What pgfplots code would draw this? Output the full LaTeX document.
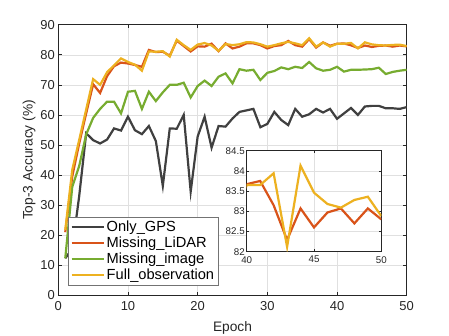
\documentclass[border=0pt]{standalone}
\usepackage{fontspec}
\setmainfont{Liberation Sans}
\usepackage{pgfplots}
\usepackage{pgfplotstable}
\pgfplotsset{compat=1.18}
\definecolor{cgray}{rgb}{0.25,0.25,0.25}
\definecolor{cred}{rgb}{0.85,0.325,0.098}
\definecolor{cgreen}{rgb}{0.466,0.674,0.188}
\definecolor{cyel}{rgb}{0.929,0.694,0.125}
\definecolor{axc}{rgb}{0.15,0.15,0.15}
\definecolor{gridc}{rgb}{0.88,0.88,0.88}

\pgfplotstableread{
e gps lidar image full
1 12.3 21.0 12.3 21.7
2 15.5 39.5 36.0 41.7
3 33.0 50.5 43.0 51.7
4 53.9 60.5 53.5 61.8
5 51.6 70.2 59.0 71.9
6 50.5 67.3 62.0 70.0
7 51.8 72.9 64.4 74.2
8 55.5 76.2 64.4 76.5
9 54.8 77.4 60.5 78.8
10 59.4 77.1 67.7 77.6
11 54.9 76.6 68.0 76.7
12 53.6 76.0 62.0 74.7
13 56.3 81.6 67.7 81.1
14 51.3 80.9 64.6 81.0
15 36.4 81.0 67.5 81.2
16 55.5 79.7 70.0 79.4
17 55.4 84.7 70.0 85.0
18 60.0 82.9 70.7 83.2
19 34.5 81.1 65.8 81.6
20 52.8 82.8 69.6 83.4
21 59.4 82.7 71.4 83.9
22 49.1 83.7 69.6 83.1
23 56.3 81.2 72.7 81.3
24 56.1 83.8 73.8 83.6
25 58.8 82.1 70.5 83.2
26 61.0 82.7 75.2 83.5
27 61.5 83.8 74.7 84.2
28 62.0 83.8 75.0 84.1
29 55.9 83.2 71.6 83.5
30 57.0 82.1 74.0 82.7
31 61.0 82.9 74.6 83.2
32 58.3 83.2 75.8 83.8
33 56.6 84.6 75.2 84.3
34 62.0 83.2 76.0 83.8
35 59.4 82.7 75.6 83.2
36 60.2 85.2 77.6 85.5
37 62.0 82.4 75.5 82.7
38 60.8 84.1 74.7 84.1
39 62.0 83.0 75.0 82.7
40 58.7 83.67 76.0 83.65
41 60.5 83.75 74.4 83.65
42 62.3 83.15 75.0 83.94
43 60.0 82.29 75.0 82.12
44 62.8 83.07 75.1 84.13
45 63.0 82.60 75.2 83.46
46 63.0 82.97 75.7 83.18
47 62.2 83.07 73.6 83.09
48 62.2 82.70 74.3 83.28
49 62.0 83.07 74.7 83.36
50 62.6 82.80 75.0 82.88
}\datatable

\begin{document}
\begin{tikzpicture}
\useasboundingbox (-58.3bp,-40.7bp) rectangle (390.7bp,295.3bp);
\begin{axis}[
  scale only axis, width=348.4bp, height=270.6bp,
  at={(0,0)}, anchor=south west,
  xmin=0, xmax=50, ymin=0, ymax=90,
  xtick={0,10,...,50}, ytick={0,10,...,90},
  grid=major, major grid style={gridc, line width=0.5bp},
  axis line style={axc, line width=0.6bp},
  tick style={axc, line width=0.6bp},
  tick align=inside, major tick length=3.5bp,
  ticklabel style={font=\fontsize{13}{15}\selectfont, text=axc},
  xticklabel style={yshift=-3bp},
  /pgf/number format/assume math mode=true,
  xlabel={Epoch}, ylabel={Top-3 Accuracy (\%)},
  label style={font=\fontsize{13.8}{16}\selectfont, text=axc},
  xlabel style={at={(axis description cs:0.5,-0.122)}, anchor=center},
  ylabel style={at={(axis description cs:-0.084,0.5)}, anchor=center},
  legend cell align=left,
  legend style={at={(0.0287,0.038)}, anchor=south west, draw=black!55,
    font=\fontsize{14.7}{17}\selectfont, inner xsep=2bp, inner ysep=1.5bp,
    row sep=0bp},
  legend image code/.code={\draw[#1] (0bp,0bp) -- (32bp,0bp);},
  every axis plot/.append style={line width=2.2bp},
]
\addplot[cgray] table[x=e, y=gps] {\datatable};
\addlegendentry{Only\_GPS}
\addplot[cred] table[x=e, y=lidar] {\datatable};
\addlegendentry{Missing\_LiDAR}
\addplot[cgreen] table[x=e, y=image] {\datatable};
\addlegendentry{Missing\_image}
\addplot[cyel] table[x=e, y=full] {\datatable};
\addlegendentry{Full\_observation}
\end{axis}
\begin{axis}[
  scale only axis, width=134.6bp, height=101bp,
  at={(188.4bp,43.6bp)}, anchor=south west,
  xmin=40, xmax=50, ymin=82, ymax=84.5,
  xtick={40,45,50}, ytick={82,82.5,83,83.5,84,84.5},
  axis background/.style={fill=white},
  grid=major, major grid style={gridc, line width=0.5bp},
  axis line style={axc, line width=0.6bp},
  tick style={axc, line width=0.6bp},
  tick align=inside, major tick length=2.5bp,
  ticklabel style={font=\fontsize{9.8}{11}\selectfont, text=axc},
  yticklabel style={xshift=1.5bp},
  xticklabel style={yshift=-1bp},
  /pgf/number format/assume math mode=true,
  every axis plot/.append style={line width=2.2bp},
]
\addplot[cred] table[x=e, y=lidar] {\datatable};
\addplot[cyel] table[x=e, y=full] {\datatable};
\end{axis}
\end{tikzpicture}
\end{document}
